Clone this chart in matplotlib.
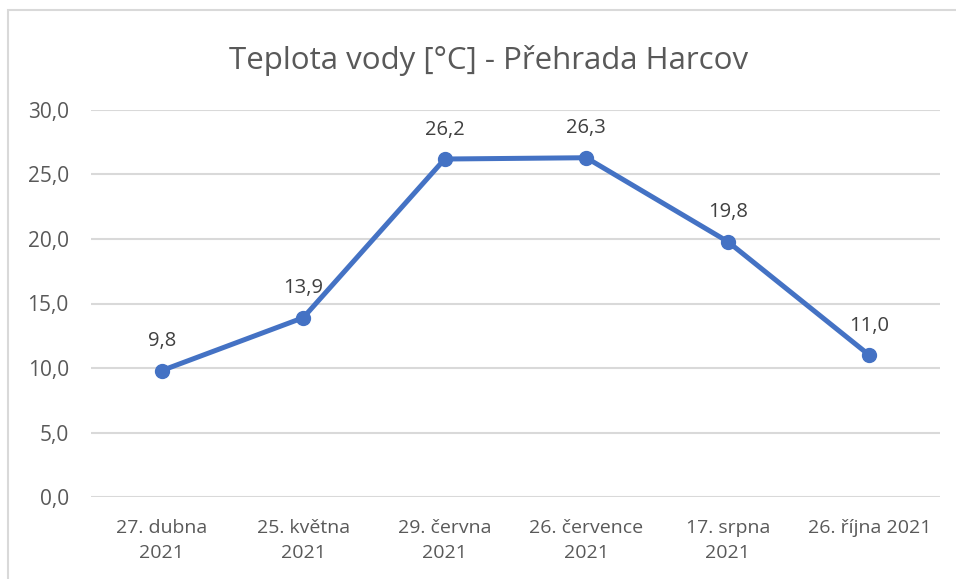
import matplotlib
matplotlib.use("Agg")
import matplotlib.pyplot as plt
from matplotlib.patches import Rectangle

categories = ["27. dubna\n2021", "25. května\n2021", "29. června\n2021",
              "26. července\n2021", "17. srpna\n2021", "26. října 2021"]
values = [9.8, 13.9, 26.2, 26.3, 19.8, 11.0]
yticks = [0, 5, 10, 15, 20, 25, 30]
title = "Teplota vody [°C] - Přehrada Harcov"

plt.rcParams['font.family'] = ["Open Sans", "DejaVu Sans"]

W, H = 956, 579
fig = plt.figure(figsize=(W/100, H/100), dpi=100)
fig.patch.set_facecolor("white")
# chart border
fig.add_artist(Rectangle((8/W, -0.1), (W+20)/W, 1 - 10/H + 0.1, transform=fig.transFigure,
                         fill=False, edgecolor="#D9D9D9", linewidth=1.5))

left, right = 91/W, 940/W
bottom, top = 1 - 497/H, 1 - 110/H
ax = fig.add_axes([left, bottom, right-left, top-bottom])
x = list(range(len(values)))
ax.plot(x, values, color="#4472C4", linewidth=3.6, marker="o", markersize=10,
        solid_capstyle="round", solid_joinstyle="round", zorder=3)
for xi, v in zip(x, values):
    ax.annotate(f"{v:.1f}".replace(".", ","), (xi, v), xytext=(0, 14),
                textcoords="offset points", ha="center", va="bottom",
                fontsize=14.5, color="#404040")
ax.set_xlim(-0.5, len(values) - 0.5)
ax.set_ylim(0, 30)
ax.set_yticks(yticks)
ax.set_yticklabels([f"{t:.1f}".replace(".", ",") for t in yticks])
ax.set_xticks(x)
ax.set_xticklabels(categories, linespacing=1.45)
ax.tick_params(axis="both", length=0, labelsize=14, labelcolor="#595959")
ax.tick_params(axis="y", pad=16, labelsize=15)
ax.tick_params(axis="x", pad=16)
ax.grid(axis="y", color="#D9D9D9", linewidth=1.5)
ax.set_axisbelow(True)
for s in ax.spines.values():
    s.set_visible(False)
fig.text(489/W, 1 - 60/H, title, ha="center", va="center",
         fontsize=22.5, color="#595959")
fig.savefig("out.png", dpi=100)
